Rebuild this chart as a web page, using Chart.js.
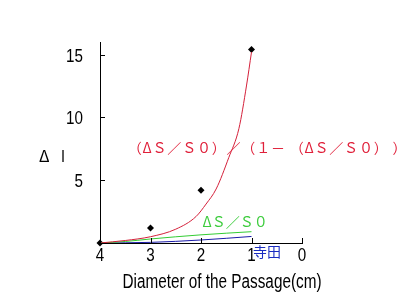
<!DOCTYPE html>
<html>
<head>
<meta charset="utf-8">
<script src="https://cdn.jsdelivr.net/npm/chart.js@4"></script>
<style>
  body { margin: 0; background: #fff; }
  canvas { display: block; }
</style>
</head>
<body>
<canvas id="chart" width="420" height="300"></canvas>
<script>
// measured points (diamonds)
let measuredX = [4, 3, 2, 1];
let measuredY = [0, 1.2, 4.2, 15.4];

// (dS/S0)/(1-(dS/S0)) curve, red
let ratioX = [4, 3.5, 3, 2.5, 2.1, 1.9, 1.7, 1.45, 1.25, 1.1, 1];
let ratioY = [0, 0.2, 0.5, 1.1, 2.1, 3.1, 4.3, 6.8, 9.1, 12.5, 15.2];

// dS/S0, green
let fracX = [4, 3.5, 3, 2, 1];
let fracY = [0, 0.12, 0.32, 0.65, 0.9];

// Terada, blue
let teradaX = [4, 3, 2, 1];
let teradaY = [0, 0.05, 0.24, 0.52];

let xTicks = [4, 3, 2, 1, 0];
let yTicks = [5, 10, 15];

function pts(xs, ys) {
    return xs.map((x, i) => ({ x: x, y: ys[i] }));
}

let sansFont = "'Liberation Sans', Arial, sans-serif";
let cjkFont = "'Noto Sans CJK JP', sans-serif";

// narrow text: Liberation Sans squeezed sideways, like Arial Narrow
function narrowText(ctx, text, x, y, size, squeeze, align) {
    ctx.save();
    ctx.font = size + 'px ' + sansFont;
    ctx.textAlign = align;
    ctx.textBaseline = 'alphabetic';
    ctx.translate(x, y);
    ctx.scale(squeeze, 1);
    ctx.fillText(text, 0, 0);
    ctx.restore();
}

// inward tick marks, tick labels, axis titles and curve labels
let extras = {
    id: 'extras',
    afterDraw(chart) {
        let ctx = chart.ctx;
        let xs = chart.scales.x, ys = chart.scales.y;
        let area = chart.chartArea;
        ctx.save();
        ctx.strokeStyle = '#000';
        ctx.lineWidth = 1;
        ctx.beginPath();
        xTicks.forEach(v => {
            let px = Math.round(xs.getPixelForValue(v)) + 0.5;
            ctx.moveTo(px, area.bottom);
            ctx.lineTo(px, area.bottom - 5);
        });
        yTicks.forEach(v => {
            let py = Math.round(ys.getPixelForValue(v)) + 0.5;
            ctx.moveTo(area.left, py);
            ctx.lineTo(area.left + 5, py);
        });
        ctx.stroke();

        ctx.fillStyle = '#000';
        xTicks.forEach(v => {
            narrowText(ctx, String(v), xs.getPixelForValue(v), area.bottom + 18, 19, 0.8, 'center');
        });
        yTicks.forEach(v => {
            narrowText(ctx, String(v), area.left - 17, ys.getPixelForValue(v) + 7, 19, 0.8, 'right');
        });
        narrowText(ctx, 'Diameter of the Passage(cm)', 222, 288, 20, 0.765, 'center');

        ctx.textBaseline = 'middle';
        ctx.textAlign = 'left';
        ctx.font = '16px ' + cjkFont;
        ctx.fillText('Δ', 39, 156);
        narrowText(ctx, 'I', 61, 162, 16, 0.9, 'left');

        ctx.fillStyle = '#e0203a';
        ctx.font = '14px ' + cjkFont;
        ctx.letterSpacing = '0.8px';
        ctx.fillText('（ΔＳ／Ｓ０）／（１－ （ΔＳ／Ｓ０） ）',
            xs.getPixelForValue(3.45), ys.getPixelForValue(7.6));
        ctx.letterSpacing = '0px';

        ctx.fillStyle = '#3ccc3c';
        ctx.font = '14px ' + cjkFont;
        ctx.fillText('ΔＳ／Ｓ０', xs.getPixelForValue(1.97), ys.getPixelForValue(1.7));

        ctx.fillStyle = '#1a2cc0';
        ctx.font = '14px ' + cjkFont;
        ctx.fillText('寺田', xs.getPixelForValue(0.97), ys.getPixelForValue(-0.7));
        ctx.restore();
    }
};

new Chart(document.getElementById('chart'), {
    type: 'scatter',
    data: {
        datasets: [
            {
                data: pts(ratioX, ratioY),
                showLine: true,
                borderColor: '#d4203a',
                borderWidth: 1,
                pointRadius: 0,
                cubicInterpolationMode: 'monotone'
            },
            {
                data: pts(fracX, fracY),
                showLine: true,
                borderColor: '#33cc33',
                borderWidth: 1,
                pointRadius: 0,
                cubicInterpolationMode: 'monotone'
            },
            {
                data: pts(teradaX, teradaY),
                showLine: true,
                borderColor: '#1a1aa8',
                borderWidth: 1,
                pointRadius: 0,
                cubicInterpolationMode: 'monotone'
            },
            {
                data: pts(measuredX, measuredY),
                showLine: false,
                clip: false,
                pointStyle: 'rectRot',
                pointRadius: 3.5,
                backgroundColor: '#000',
                borderColor: '#000',
                borderWidth: 0
            }
        ]
    },
    options: {
        responsive: false,
        animation: false,
        layout: { padding: { left: 0, top: 42, right: 118, bottom: 0 } },
        plugins: { legend: { display: false }, tooltip: { enabled: false } },
        scales: {
            x: {
                type: 'linear',
                min: 0,
                max: 4,
                reverse: true,
                grid: { display: false, drawTicks: false },
                border: { display: true, color: '#000', width: 1 },
                afterFit: s => { s.height = 57; },
                ticks: { display: false }
            },
            y: {
                type: 'linear',
                min: 0,
                max: 16,
                grid: { display: false, drawTicks: false },
                border: { display: true, color: '#000', width: 1 },
                afterFit: s => { s.width = 100; },
                ticks: { display: false }
            }
        }
    },
    plugins: [extras]
});
</script>
</body>
</html>
